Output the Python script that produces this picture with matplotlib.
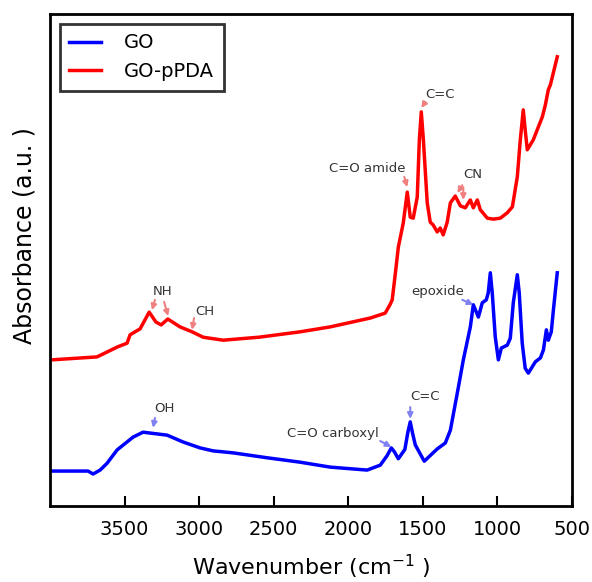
import matplotlib
matplotlib.use("Agg")
import matplotlib.pyplot as plt

# FTIR spectra (absorbance, arbitrary units)
go_wn = [3990, 3745, 3711, 3664, 3617, 3550, 3443, 3376, 3215, 3107, 2993, 2906,
         2772, 2544, 2322, 2121, 1873, 1785, 1740, 1711, 1690, 1664, 1620, 1600,
         1584, 1570, 1550, 1490, 1403, 1349, 1315, 1262, 1228, 1181, 1161, 1127,
         1101, 1074, 1061, 1047, 1034, 1014, 993, 973, 933, 913, 893, 866,
         853, 833, 813, 792, 745, 711, 691, 671, 658, 638, 624, 598]
go_abs = [0.071, 0.071, 0.065, 0.073, 0.087, 0.114, 0.140, 0.150, 0.144, 0.130, 0.118, 0.112,
          0.108, 0.098, 0.089, 0.079, 0.073, 0.083, 0.102, 0.118, 0.110, 0.096, 0.115, 0.150,
          0.171, 0.150, 0.124, 0.091, 0.116, 0.128, 0.154, 0.240, 0.297, 0.364, 0.409, 0.384,
          0.413, 0.419, 0.433, 0.474, 0.433, 0.344, 0.297, 0.321, 0.327, 0.341, 0.413, 0.470,
          0.433, 0.331, 0.280, 0.270, 0.293, 0.301, 0.317, 0.358, 0.337, 0.354, 0.398, 0.474]

pg_wn = [3990, 3685, 3617, 3550, 3483, 3463, 3396, 3335, 3290, 3255, 3210, 3128,
         3047, 2973, 2839, 2600, 2322, 2121, 1852, 1752, 1720, 1705, 1685, 1664,
         1631, 1604, 1584, 1564, 1537, 1523, 1510, 1496, 1470, 1450, 1430, 1403,
         1383, 1363, 1336, 1315, 1282, 1248, 1215, 1181, 1161, 1134, 1114, 1067,
         1027, 980, 933, 899, 866, 846, 826, 813, 799, 759, 698, 678,
         658, 644, 598]
pg_abs = [0.297, 0.303, 0.313, 0.323, 0.331, 0.348, 0.360, 0.394, 0.374, 0.368, 0.380, 0.364,
          0.354, 0.343, 0.337, 0.343, 0.354, 0.364, 0.382, 0.392, 0.409, 0.419, 0.470, 0.526,
          0.575, 0.638, 0.587, 0.585, 0.628, 0.744, 0.801, 0.744, 0.616, 0.577, 0.571, 0.557,
          0.565, 0.551, 0.577, 0.616, 0.630, 0.610, 0.606, 0.622, 0.606, 0.622, 0.602, 0.585,
          0.583, 0.585, 0.596, 0.608, 0.669, 0.744, 0.805, 0.764, 0.724, 0.744, 0.791, 0.815,
          0.846, 0.856, 0.913]

# peak labels: (text, x, y, colour key)
labels = [("NH", 3242, 0.435, "r"), ("CH", 2960, 0.396, "r"),
          ("C=O amide", 1873, 0.685, "r"), ("C=C", 1383, 0.837, "r"),
          ("CN", 1168, 0.673, "r"),
          ("OH", 3235, 0.199, "b"), ("C=O carboxyl", 2101, 0.148, "b"),
          ("C=C", 1483, 0.222, "b"), ("epoxide", 1403, 0.435, "b")]

# arrows: (x start, y start, x end, y end, colour key)
arrows = [(3296, 0.419, 3316, 0.398, "r"), (3235, 0.415, 3208, 0.386, "r"),
          (3034, 0.382, 3047, 0.358, "r"), (1624, 0.669, 1604, 0.648, "r"),
          (1483, 0.821, 1510, 0.809, "r"), (1235, 0.652, 1268, 0.636, "r"),
          (1228, 0.648, 1228, 0.622, "r"),
          (3296, 0.179, 3309, 0.159, "b"), (1785, 0.132, 1711, 0.120, "b"),
          (1584, 0.201, 1584, 0.177, "b"), (1235, 0.419, 1161, 0.409, "b")]

arrow_col = {"r": "#f08080", "b": "#8080f0"}

fig = plt.figure(figsize=(5.92, 5.82), dpi=100)
ax = fig.add_axes([0.0845, 0.1306, 0.8815, 0.8454])

ax.plot(go_wn, go_abs, color="blue", lw=2.5, label="GO", solid_joinstyle="round")
ax.plot(pg_wn, pg_abs, color="red", lw=2.5, label="GO-pPDA", solid_joinstyle="round")

for txt, x, y, c in labels:
    ax.text(x, y, txt, fontsize=9.5, color="#333333", ha="center", va="center")

for x0, y0, x1, y1, c in arrows:
    ax.annotate("", xy=(x1, y1), xytext=(x0, y0),
                arrowprops=dict(arrowstyle="-|>", color=arrow_col[c], lw=1.5,
                                mutation_scale=8, shrinkA=0, shrinkB=0))

ax.set_xlim(4000, 500)
ax.set_ylim(0, 1)
ax.set_xticks([3500, 3000, 2500, 2000, 1500, 1000, 500])
ax.set_yticks([])
ax.tick_params(axis="x", direction="in", length=7, width=1.5, labelsize=14, pad=10)
for sp in ax.spines.values():
    sp.set_linewidth(2)

ax.set_xlabel("Wavenumber (cm$^{-1}$ )", fontsize=16, labelpad=10)
ax.set_ylabel("Absorbance (a.u. )", fontsize=17)
ax.yaxis.set_label_coords(-0.025, 0.549)

leg = ax.legend(loc="upper left", fontsize=14, fancybox=False, edgecolor="black",
                handlelength=1.6, borderpad=0.5, handletextpad=1.2)
leg.get_frame().set_linewidth(2)

fig.savefig("out.png", dpi=100)
